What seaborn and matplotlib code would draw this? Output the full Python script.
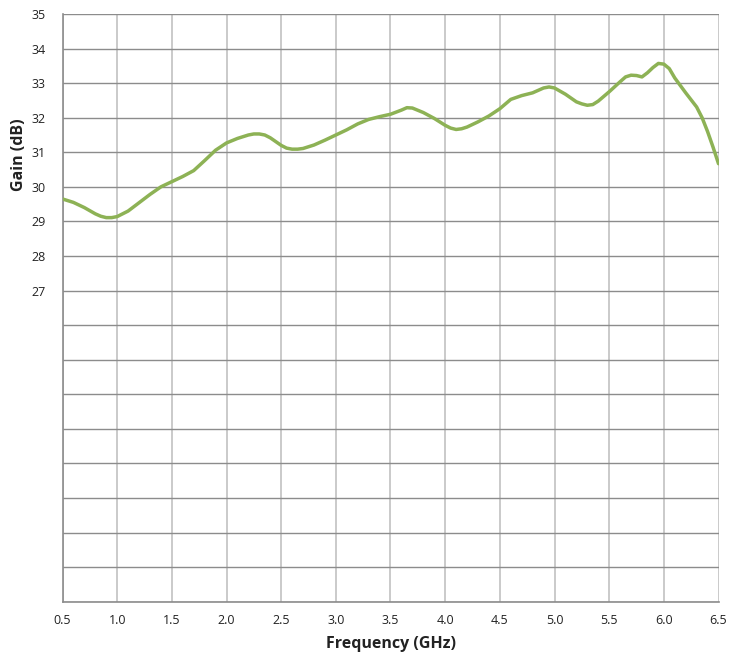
import matplotlib
matplotlib.use("Agg")
import matplotlib.pyplot as plt
import seaborn as sns
import pandas as pd

freq = [0.5, 0.6, 0.7, 0.8, 0.85, 0.9, 0.95, 1.0, 1.1, 1.2, 1.3, 1.4, 1.5, 1.6, 1.7, 1.8, 1.9,
        2.0, 2.1, 2.2, 2.25, 2.3, 2.35, 2.4, 2.5, 2.55, 2.6, 2.65, 2.7, 2.8, 2.9, 3.0, 3.1, 3.2,
        3.3, 3.4, 3.5, 3.6, 3.65, 3.7, 3.8, 3.9, 4.0, 4.05, 4.1, 4.15, 4.2, 4.3, 4.4, 4.5, 4.6,
        4.7, 4.8, 4.9, 4.95, 5.0, 5.1, 5.2, 5.25, 5.3, 5.35, 5.4, 5.5, 5.6, 5.65, 5.7, 5.75,
        5.8, 5.85, 5.9, 5.95, 6.0, 6.05, 6.1, 6.2, 6.3, 6.35, 6.4, 6.45, 6.5]
gain = [29.65, 29.55, 29.40, 29.22, 29.15, 29.11, 29.11, 29.14, 29.30, 29.54, 29.78, 30.00,
        30.15, 30.30, 30.47, 30.76, 31.06, 31.27, 31.40, 31.50, 31.53, 31.53, 31.50, 31.42,
        31.20, 31.12, 31.09, 31.09, 31.11, 31.21, 31.35, 31.50, 31.65, 31.82, 31.95, 32.03,
        32.10, 32.22, 32.29, 32.28, 32.15, 31.98, 31.78, 31.70, 31.66, 31.68, 31.73, 31.88,
        32.05, 32.26, 32.53, 32.64, 32.72, 32.86, 32.89, 32.86, 32.68, 32.46, 32.40, 32.36,
        32.38, 32.48, 32.75, 33.04, 33.18, 33.23, 33.22, 33.18, 33.30, 33.45, 33.57, 33.55,
        33.42, 33.15, 32.72, 32.31, 32.00, 31.60, 31.15, 30.67]

x_ticks = [0.5, 1.0, 1.5, 2.0, 2.5, 3.0, 3.5, 4.0, 4.5, 5.0, 5.5, 6.0, 6.5]
y_ticks = list(range(18, 36))
y_labeled = [27, 28, 29, 30, 31, 32, 33, 34, 35]

sns.set_style("white")
plt.rcParams['font.family'] = ['Open Sans', 'DejaVu Sans']

df = pd.DataFrame({"Frequency (GHz)": freq, "Gain (dB)": gain})

fig = plt.figure(figsize=(7.3, 6.56), dpi=100)
ax = fig.add_axes([62.5 / 730, (656 - 601.7) / 656, 656 / 730, (601.7 - 14) / 656])

sns.lineplot(data=df, x="Frequency (GHz)", y="Gain (dB)", ax=ax, color="#8db255",
             linewidth=2.5, solid_joinstyle="round", solid_capstyle="round", zorder=3)

ax.set_xlim(0.5, 6.5)
ax.set_ylim(18, 35)
ax.set_xticks(x_ticks)
ax.set_xticklabels([f"{v:.1f}" for v in x_ticks])
ax.set_yticks(y_ticks)
ax.set_yticklabels([str(v) if v in y_labeled else "" for v in y_ticks])

for v in y_ticks:
    ax.axhline(v, color="#8c8c8c", linewidth=1.0, zorder=1)
for v in x_ticks:
    ax.axvline(v, color="#cacaca", linewidth=1.4, zorder=0.5)

for s in ["top", "right"]:
    ax.spines[s].set_visible(False)
for s in ["left", "bottom"]:
    ax.spines[s].set_color("#8c8c8c")
    ax.spines[s].set_linewidth(1.2)

ax.tick_params(axis="both", which="major", direction="out", length=4, width=1,
               color="#8c8c8c", labelsize=9, labelcolor="#222222")
ax.tick_params(axis="y", pad=8)
ax.tick_params(axis="x", pad=5)

ax.set_xlabel("Frequency (GHz)", fontsize=11.5, fontweight="bold", color="#222222")
ax.set_ylabel("Gain (dB)", fontsize=11.5, fontweight="bold", color="#222222")
ax.xaxis.set_label_coords(0.5, -0.058)
ax.yaxis.set_label_coords(-0.054, 1 - (155 - 14) / 587.7)

fig.savefig("out.png", dpi=100)
